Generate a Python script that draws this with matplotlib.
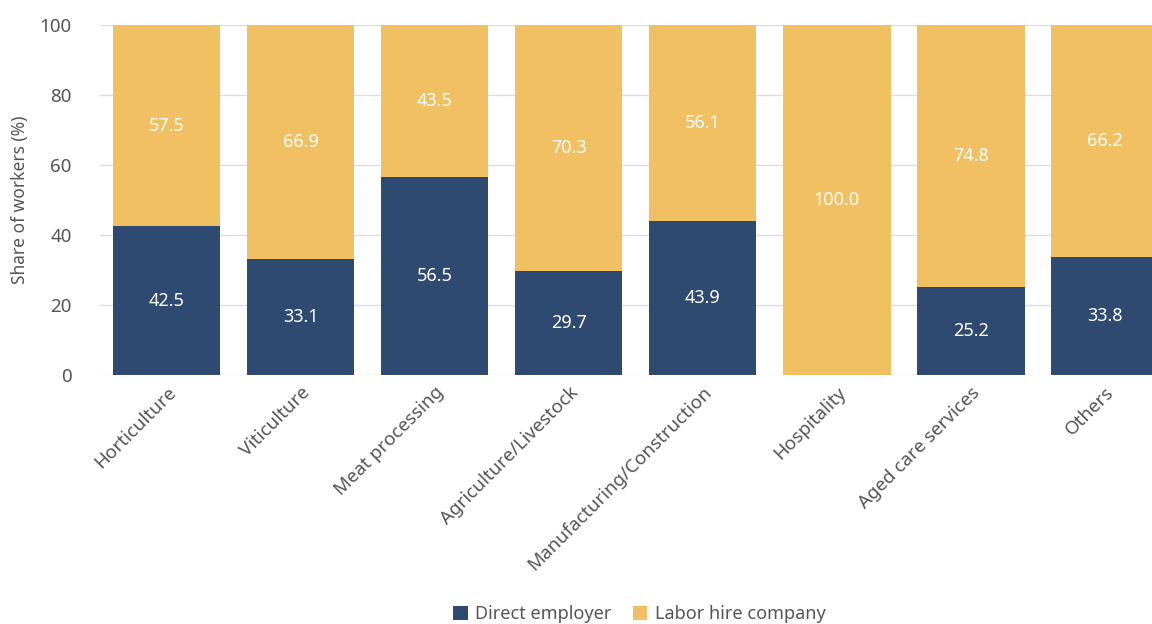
import matplotlib
matplotlib.use("Agg")
import matplotlib.pyplot as plt
import numpy as np

plt.rcParams['font.family'] = ['Noto Sans', 'DejaVu Sans']

categories = ["Horticulture", "Viticulture", "Meat processing", "Agriculture/Livestock",
              "Manufacturing/Construction", "Hospitality", "Aged care services", "Others"]
direct = [42.5, 33.1, 56.5, 29.7, 43.9, 0.0, 25.2, 33.8]
labor_hire = [57.5, 66.9, 43.5, 70.3, 56.1, 100.0, 74.8, 66.2]

navy = "#2E4A70"
gold = "#F0C062"
grey = "#555555"

fig = plt.figure(figsize=(11.52, 6.24), dpi=100)
ax = fig.add_axes([0.0864, 0.399, 0.9136, 0.561])

x = np.arange(len(categories))
b1 = ax.bar(x, direct, width=0.8, color=navy, label="Direct employer", zorder=2)
b2 = ax.bar(x, labor_hire, width=0.8, bottom=direct, color=gold, label="Labor hire company", zorder=2)

for i in range(len(categories)):
    if direct[i] > 0:
        ax.text(x[i], direct[i] / 2, f"{direct[i]:.1f}", ha="center", va="center",
                color="white", fontsize=13)
    ax.text(x[i], direct[i] + labor_hire[i] / 2, f"{labor_hire[i]:.1f}", ha="center",
            va="center", color="white", fontsize=13)

ax.set_xlim(-0.5, 7.35)
ax.set_ylim(0, 100)
ax.set_yticks([0, 20, 40, 60, 80, 100])
ax.yaxis.grid(True, color="#DDDDDD", linewidth=1, zorder=0)
ax.set_axisbelow(True)
for s in ax.spines.values():
    s.set_visible(False)
ax.tick_params(axis="both", length=0, colors=grey, labelsize=13.5)
ax.tick_params(axis="y", pad=20)
ax.tick_params(axis="x", pad=6)
ax.set_xticks(x)
ax.set_xticklabels(categories, rotation=45, ha="right", rotation_mode="anchor")
ax.set_ylabel("Share of workers (%)", color=grey, fontsize=12.5, labelpad=8)

fig.legend(handles=[b1, b2], loc="lower center", bbox_to_anchor=(0.555, -0.025), ncol=2,
           frameon=False, fontsize=13, handlelength=0.8, handleheight=0.8,
           handletextpad=0.4, columnspacing=1.2, labelcolor=grey)

fig.savefig("out.png", dpi=100)
